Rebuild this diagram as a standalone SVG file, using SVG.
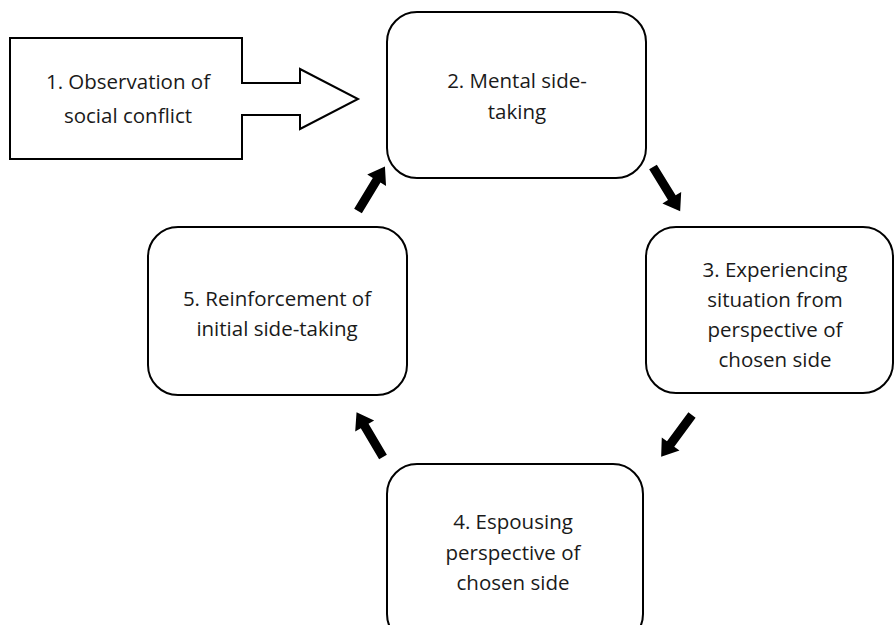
<svg xmlns="http://www.w3.org/2000/svg" xmlns:xlink="http://www.w3.org/1999/xlink" width="894" height="625" viewBox="0 0 894 625">
<style>
.box{fill:#fff;stroke:#000;stroke-width:2}
.t{font-family:"Open Sans","Noto Sans",sans-serif;font-size:20.5px;fill:#1a1a1a;text-anchor:middle}
.ar{fill:#000}
</style>
<defs>
<path id="blk" d="M0,-4.5 H36 V-11 L52,0 L36,11 V4.5 H0 Z"/>
</defs>
<rect width="894" height="625" fill="#fff"/>
<g id="node1">
<path class="box" d="M10,38 H242 V83 H300 V69 L358,99 L300,129 V115 H242 V159 H10 Z"/>
<text class="t" x="128" y="89">1. Observation of</text>
<text class="t" x="128" y="123">social conflict</text>
</g>
<g id="node2">
<rect class="box" x="387" y="12" width="259" height="166" rx="30"/>
<text class="t" x="517" y="88">2. Mental side-</text>
<text class="t" x="517" y="119">taking</text>
</g>
<g id="node3">
<rect class="box" x="646" y="227" width="247" height="166" rx="30"/>
<text class="t" x="775" y="277">3. Experiencing</text>
<text class="t" x="775" y="307">situation from</text>
<text class="t" x="775" y="337">perspective of</text>
<text class="t" x="775" y="367">chosen side</text>
</g>
<g id="node4">
<rect class="box" x="387" y="464" width="256" height="180" rx="30"/>
<text class="t" x="513" y="529">4. Espousing</text>
<text class="t" x="513" y="560">perspective of</text>
<text class="t" x="513" y="590">chosen side</text>
</g>
<g id="node5">
<rect class="box" x="148" y="227" width="259" height="168" rx="30"/>
<text class="t" x="277" y="306">5. Reinforcement of</text>
<text class="t" x="277" y="336">initial side-taking</text>
</g>
<g id="connectors">
<use class="ar" xlink:href="#blk" transform="translate(653,167) rotate(58.5)"/>
<use class="ar" xlink:href="#blk" transform="translate(692,415) rotate(126.4)"/>
<use class="ar" xlink:href="#blk" transform="translate(383,457) rotate(-120.6)"/>
<use class="ar" xlink:href="#blk" transform="translate(358,211) rotate(-58.8)"/>
</g>
</svg>
